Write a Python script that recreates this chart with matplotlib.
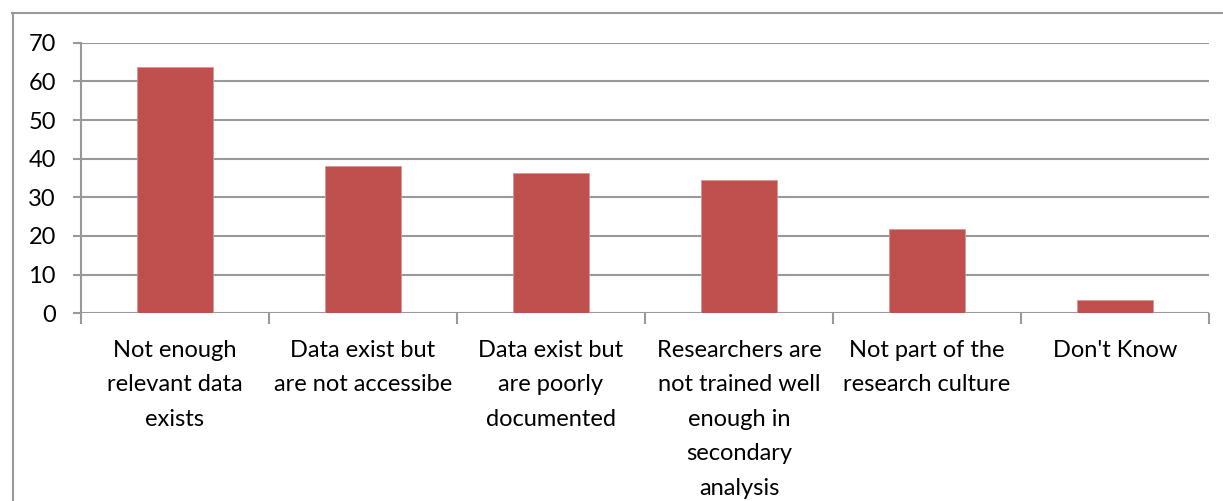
import matplotlib
matplotlib.use("Agg")
import matplotlib.pyplot as plt
from matplotlib.lines import Line2D
import numpy as np

categories = [
    "Not enough\nrelevant data\nexists",
    "Data exist but\nare not accessibe",
    "Data exist but\nare poorly\ndocumented",
    "Researchers are\nnot trained well\nenough in\nsecondary\nanalysis",
    "Not part of the\nresearch culture",
    "Don't Know",
]
values = [63.6, 38.2, 36.3, 34.5, 21.7, 3.4]
yticks = [0, 10, 20, 30, 40, 50, 60, 70]

plt.rcParams['font.family'] = ['Lato', 'DejaVu Sans']

W, H = 1223, 501
fig = plt.figure(figsize=(W / 100, H / 100), dpi=100)
ax = fig.add_axes([81 / W, 1 - 313.3 / H, (1209 - 81) / W, (313.3 - 42.7) / H])

grid_c = '#999999'
x = np.arange(len(categories))
ax.bar(x, values, width=0.4, color='#C0504D', edgecolor='#D99694', linewidth=0.6, zorder=3)

ax.set_xlim(-0.5, len(categories) - 0.5)
ax.set_ylim(0, 70)
ax.set_yticks(yticks)
ax.set_yticklabels([str(v) for v in yticks], fontsize=17)
for v in yticks:
    ax.axhline(v, color=grid_c, linewidth=1.5, zorder=1)

ax.set_xticks(np.arange(len(categories) + 1) - 0.5, minor=False)
ax.set_xticklabels([])
ax.set_xticks(x, minor=True)
ax.set_xticklabels(categories, minor=True, fontsize=17, linespacing=1.8, va='top')
ax.tick_params(axis='x', which='minor', length=0, pad=19)
ax.tick_params(axis='x', which='major', length=8, width=1.5, color=grid_c)
ax.tick_params(axis='y', length=6, width=1.5, color=grid_c, pad=12)

for s in ['top', 'right', 'bottom']:
    ax.spines[s].set_visible(False)
ax.spines['left'].set_color(grid_c)
ax.spines['left'].set_linewidth(1.5)

# outer chart frame
fig.add_artist(Line2D([12.5 / W, 12.5 / W], [0, 1 - 13 / H], color=grid_c, linewidth=1.5, transform=fig.transFigure))
fig.add_artist(Line2D([12 / W, 1], [1 - 13 / H, 1 - 13 / H], color=grid_c, linewidth=1.5, transform=fig.transFigure))

fig.savefig("out.png", dpi=100, facecolor='white')
